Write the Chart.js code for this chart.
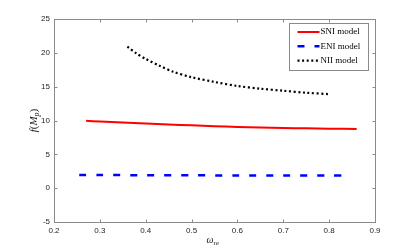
<!DOCTYPE html>
<html lang="en">
<head>
  <meta charset="UTF-8">
  <title>f(Mp) vs omega_re</title>
  <script src="https://cdn.jsdelivr.net/npm/chart.js"></script>
  <style>
    html, body { margin: 0; padding: 0; background: #fff; }
    #wrap { width: 415px; height: 250px; }
  </style>
</head>
<body>
<div id="wrap"><canvas id="chart" width="415" height="250"></canvas></div>
<script>
// values
const sniX = [0.27, 0.30, 0.35, 0.40, 0.45, 0.50, 0.55, 0.60, 0.65, 0.70, 0.75, 0.80, 0.86];
const sniY = [9.95, 9.85, 9.70, 9.55, 9.40, 9.28, 9.15, 9.05, 8.97, 8.90, 8.84, 8.79, 8.74];

const eniX = [0.255, 0.30, 0.40, 0.50, 0.60, 0.70, 0.80, 0.84];
const eniY = [1.95, 1.94, 1.92, 1.90, 1.88, 1.87, 1.86, 1.85];

const niiX = [0.36, 0.38, 0.40, 0.43, 0.46, 0.50, 0.55, 0.60, 0.65, 0.70, 0.75, 0.80];
const niiY = [20.9, 19.9, 19.1, 18.1, 17.2, 16.4, 15.7, 15.1, 14.7, 14.4, 14.1, 13.9];

const xTicks = [0.2, 0.3, 0.4, 0.5, 0.6, 0.7, 0.8, 0.9];
const yTicks = [-5, 0, 5, 10, 15, 20, 25];

const pts = (xs, ys) => xs.map((x, i) => ({ x: x, y: ys[i] }));

const axisColor = "#262626";
const tickFont = { family: "Liberation Sans", size: 8 };

// MATLAB style box, inward ticks, axis titles with subscripts, legend inside the axes
const matlabBox = {
  id: "matlabBox",
  afterDraw(chart) {
    const { ctx, chartArea: a, scales } = chart;
    const L = Math.round(a.left) + 0.5, R = Math.round(a.right) + 0.5;
    const T = Math.round(a.top) + 0.5, B = Math.round(a.bottom) + 0.5;
    ctx.save();
    ctx.strokeStyle = "#8a8a8a";
    ctx.lineWidth = 1;
    ctx.strokeRect(L, T, R - L, B - T);
    ctx.beginPath();
    xTicks.forEach(v => {
      const px = Math.round(scales.x.getPixelForValue(v)) + 0.5;
      ctx.moveTo(px, B); ctx.lineTo(px, B - 3);
      ctx.moveTo(px, T); ctx.lineTo(px, T + 3);
    });
    yTicks.forEach(v => {
      const py = Math.round(scales.y.getPixelForValue(v)) + 0.5;
      ctx.moveTo(L, py); ctx.lineTo(L + 3, py);
      ctx.moveTo(R, py); ctx.lineTo(R - 3, py);
    });
    ctx.stroke();

    // x title: omega_re
    ctx.fillStyle = axisColor;
    ctx.textBaseline = "alphabetic";
    ctx.font = "italic 10px 'Liberation Serif'";
    const cx = (a.left + a.right) / 2;
    ctx.textAlign = "left";
    ctx.fillText("ω", cx - 8, 243);
    ctx.font = "7px 'Liberation Serif'";
    ctx.fillText("re", cx - 1, 245);

    // y title: f(M_p), rotated
    ctx.save();
    ctx.translate(34, (a.top + a.bottom) / 2);
    ctx.rotate(-Math.PI / 2);
    ctx.textAlign = "left";
    const parts = [["f", "italic 11px 'Liberation Serif'", 0], ["(", "11px 'Liberation Serif'", 0],
                   ["M", "italic 11px 'Liberation Serif'", 0], ["p", "italic 8px 'Liberation Serif'", 2],
                   [")", "11px 'Liberation Serif'", 0]];
    let w = 0;
    parts.forEach(p => { ctx.font = p[1]; w += ctx.measureText(p[0]).width; });
    let x0 = -w / 2;
    parts.forEach(p => {
      ctx.font = p[1];
      ctx.fillText(p[0], x0, 3 + p[2]);
      x0 += ctx.measureText(p[0]).width;
    });
    ctx.restore();

    // legend
    const lx = 289.5, ly = 23.5, lw = 79, lh = 47;
    ctx.fillStyle = "#fff";
    ctx.fillRect(lx, ly, lw, lh);
    ctx.strokeStyle = "#8a8a8a";
    ctx.lineWidth = 1;
    ctx.strokeRect(lx, ly, lw, lh);
    ctx.font = "9px 'Liberation Serif'";
    ctx.textBaseline = "middle";
    chart.data.datasets.forEach((ds, i) => {
      const y = ly + 8.5 + i * 14.3;
      ctx.save();
      ctx.strokeStyle = ds.borderColor;
      ctx.lineWidth = ds.borderWidth;
      ctx.setLineDash(ds.borderDash || []);
      ctx.beginPath();
      ctx.moveTo(lx + 8, y); ctx.lineTo(lx + 30, y);
      ctx.stroke();
      ctx.restore();
      ctx.fillStyle = "#000";
      ctx.fillText(ds.label, lx + 31, y);
    });
    ctx.restore();
  }
};

new Chart(document.getElementById("chart").getContext("2d"), {
  type: "line",
  data: {
    datasets: [
      { label: "SNI model", data: pts(sniX, sniY), borderColor: "#ff0000", borderWidth: 2,
        pointRadius: 0, fill: false, tension: 0.3 },
      { label: "ENI model", data: pts(eniX, eniY), borderColor: "#0000ff", borderWidth: 2.5,
        borderDash: [7, 10], pointRadius: 0, fill: false, tension: 0.3 },
      { label: "NII model", data: pts(niiX, niiY), borderColor: "#000000", borderWidth: 2.2,
        borderDash: [2, 2.6], pointRadius: 0, fill: false, tension: 0.3 }
    ]
  },
  plugins: [matlabBox],
  options: {
    responsive: false,
    animation: false,
    layout: { padding: { top: 19, right: 40, left: 0, bottom: 0 } },
    plugins: { legend: { display: false }, tooltip: { enabled: false } },
    scales: {
      x: {
        type: "linear", min: 0.2, max: 0.9,
        afterBuildTicks: s => { s.ticks = xTicks.map(v => ({ value: v })); },
        afterFit: s => { s.height = 28; },
        grid: { display: false, drawTicks: false, tickLength: 0 },
        border: { display: false },
        ticks: { color: axisColor, font: tickFont, padding: 4, maxRotation: 0,
                 callback: v => v.toFixed(1) }
      },
      y: {
        min: -5, max: 25,
        afterBuildTicks: s => { s.ticks = yTicks.map(v => ({ value: v })); },
        afterFit: s => { s.width = 54; },
        grid: { display: false, drawTicks: false, tickLength: 0 },
        border: { display: false },
        ticks: { color: axisColor, font: tickFont, padding: 4 }
      }
    }
  }
});
</script>
</body>
</html>
